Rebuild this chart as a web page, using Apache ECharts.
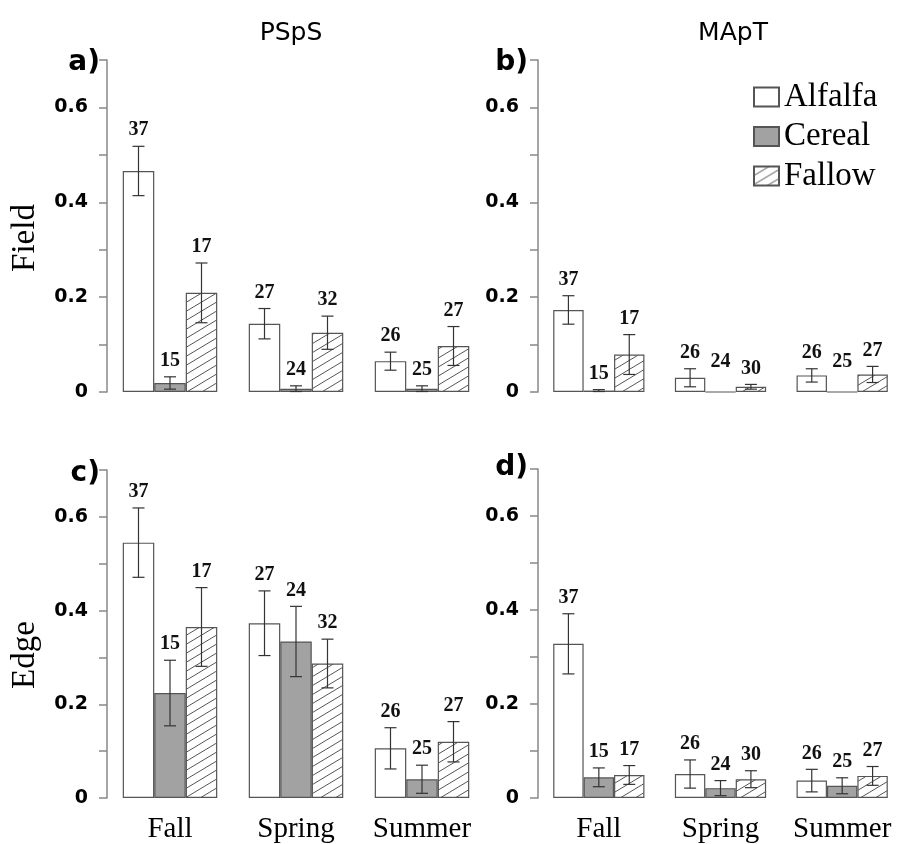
<!DOCTYPE html>
<html>
<head>
<meta charset="utf-8">
<script src="https://cdn.jsdelivr.net/npm/echarts@6/dist/echarts.min.js"></script>
<style>
html,body{margin:0;padding:0;background:#fff;}
#chart{width:903px;height:844px;}
</style>
</head>
<body>
<div id="chart"></div>
<script>
// ---------- data ----------
const seasons = ['Fall', 'Spring', 'Summer'];
const crops = ['Alfalfa', 'Cereal', 'Fallow'];
const panelTitles = ['PSpS', 'MApT'];
const rowNames = ['Field', 'Edge'];
const panelLetters = ['a)', 'b)', 'c)', 'd)'];
const yTickLabels = ['0', '0.2', '0.4', '0.6'];

// a) PSpS - Field
const aAlfalfa = [0.466, 0.144, 0.065];
const aAlfalfaSE = [0.052, 0.032, 0.019];
const aCereal = [0.019, 0.007, 0.007];
const aCerealSE = [0.013, 0.006, 0.006];
const aFallow = [0.209, 0.125, 0.097];
const aFallowSE = [0.063, 0.035, 0.041];
const aN = [[37, 27, 26], [15, 24, 25], [17, 32, 27]];

// b) MApT - Field
const bAlfalfa = [0.173, 0.030, 0.035];
const bAlfalfaSE = [0.030, 0.019, 0.014];
const bCereal = [0.003, 0, 0];
const bCerealSE = [0.002, 0, 0];
const bFallow = [0.079, 0.011, 0.037];
const bFallowSE = [0.042, 0.005, 0.017];
const bN = [[37, 26, 26], [15, 24, 25], [17, 30, 27]];

// c) PSpS - Edge
const cAlfalfa = [0.545, 0.373, 0.106];
const cAlfalfaSE = [0.074, 0.069, 0.044];
const cCereal = [0.224, 0.334, 0.040];
const cCerealSE = [0.070, 0.075, 0.030];
const cFallow = [0.365, 0.287, 0.120];
const cFallowSE = [0.084, 0.052, 0.043];
const cN = [[37, 27, 26], [15, 24, 25], [17, 32, 27]];

// d) MApT - Edge
const dAlfalfa = [0.328, 0.051, 0.037];
const dAlfalfaSE = [0.064, 0.030, 0.024];
const dCereal = [0.044, 0.021, 0.026];
const dCerealSE = [0.020, 0.016, 0.017];
const dFallow = [0.049, 0.040, 0.047];
const dFallowSE = [0.020, 0.018, 0.020];
const dN = [[37, 26, 26], [15, 24, 25], [17, 30, 27]];

// ---------- build ----------
const panels = [
  {means: [aAlfalfa, aCereal, aFallow], se: [aAlfalfaSE, aCerealSE, aFallowSE], n: aN},
  {means: [bAlfalfa, bCereal, bFallow], se: [bAlfalfaSE, bCerealSE, bFallowSE], n: bN},
  {means: [cAlfalfa, cCereal, cFallow], se: [cAlfalfaSE, cCerealSE, cFallowSE], n: cN},
  {means: [dAlfalfa, dCereal, dFallow], se: [dAlfalfaSE, dCerealSE, dFallowSE], n: dN}
];

// hatch pattern
const hatch = document.createElement('canvas');
const HW = 15, HH = 9;
hatch.width = HW; hatch.height = HH;
(function () {
  const ctx = hatch.getContext('2d');
  ctx.fillStyle = '#fff';
  ctx.fillRect(0, 0, HW, HH);
  ctx.strokeStyle = '#555';
  ctx.lineWidth = 1;
  [[0, HH, HW, 0], [-HW, HH, 0, 0], [HW, HH, 2 * HW, 0], [0, 2 * HH, HW, HH], [0, 0, HW, -HH]].forEach(function (l) {
    ctx.beginPath(); ctx.moveTo(l[0], l[1]); ctx.lineTo(l[2], l[3]); ctx.stroke();
  });
})();

const fills = ['#ffffff', '#a2a2a2', {image: hatch, repeat: 'repeat'}];

const grids = [
  {left: 107, top: 60, width: 378, height: 332},
  {left: 538, top: 60, width: 378, height: 332},
  {left: 107, top: 470, width: 378, height: 331},
  {left: 538, top: 469, width: 378, height: 331}
];

const xAxes = grids.map(function (g, i) {
  return {
    type: 'category', gridIndex: i, data: seasons,
    axisLine: {show: false}, axisTick: {show: false},
    axisLabel: {show: i >= 2, interval: 0, hideOverlap: false, margin: 17, color: '#000', fontFamily: '"Liberation Serif", serif', fontSize: 29}
  };
});

const yAxes = grids.map(function (g, i) {
  return {
    type: 'value', gridIndex: i, min: 0, max: 0.7, interval: 0.1,
    splitLine: {show: false},
    axisLine: {show: true, lineStyle: {color: '#888', width: 1.5}},
    axisTick: {show: true, length: 8, lineStyle: {color: '#888', width: 1.5}},
    axisLabel: {
      margin: 19, color: '#000', fontFamily: '"DejaVu Sans", sans-serif', fontWeight: 'bold', fontSize: 19,
      formatter: function (v) {
        const s = String(Math.round(v * 10) / 10);
        return yTickLabels.indexOf(s) >= 0 ? s : '';
      }
    }
  };
});

const series = [];
panels.forEach(function (p, gi) {
  crops.forEach(function (c, k) {
    series.push({
      type: 'bar', name: c, xAxisIndex: gi, yAxisIndex: gi,
      barGap: '0%', barCategoryGap: '25%',
      data: p.means[k],
      itemStyle: {color: fills[k], borderColor: '#555', borderWidth: 1.2},
      emphasis: {disabled: true}, silent: true
    });
  });
  const errData = [];
  crops.forEach(function (c, k) {
    seasons.forEach(function (s, j) {
      errData.push([j, k, p.means[k][j], p.se[k][j], p.n[k][j]]);
    });
  });
  series.push({
    type: 'custom', xAxisIndex: gi, yAxisIndex: gi, z: 10, silent: true,
    encode: {x: 0, y: 2},
    data: errData,
    renderItem: function (params, api) {
      const cat = api.value(0), k = api.value(1), v = api.value(2), se = api.value(3), n = api.value(4);
      const band = api.size([1, 0])[0];
      const bw = band * 0.75 / 3;
      const cx = api.coord([cat, 0])[0] + (k - 1) * bw;
      const yTop = api.coord([cat, v + se])[1];
      const yBot = api.coord([cat, Math.max(v - se, 0)])[1];
      const ls = {stroke: '#333', lineWidth: 1.2};
      const children = [];
      if (se > 0) {
        children.push({type: 'line', shape: {x1: cx, y1: yTop, x2: cx, y2: yBot}, style: ls});
        children.push({type: 'line', shape: {x1: cx - 6, y1: yTop, x2: cx + 6, y2: yTop}, style: ls});
        children.push({type: 'line', shape: {x1: cx - 6, y1: yBot, x2: cx + 6, y2: yBot}, style: ls});
      }
      const labelY = se > 0 ? yTop - 6 : api.coord([cat, v])[1] - 20;
      children.push({
        type: 'text', x: cx, y: labelY,
        style: {text: String(n), textAlign: 'center', textVerticalAlign: 'bottom',
          font: 'bold 20px "Liberation Serif", serif', fill: '#111'}
      });
      return {type: 'group', children: children};
    }
  });
});

const legends = crops.map(function (c, k) {
  return {
    data: [{name: c, icon: 'rect'}], left: 753, top: [80, 119.5, 159][k], padding: 0,
    itemWidth: 25, itemHeight: 19, selectedMode: false,
    textStyle: {color: '#000', fontFamily: '"Liberation Serif", serif', fontSize: 33, lineHeight: 34}
  };
});

const graphics = [];
panelTitles.forEach(function (t, i) {
  graphics.push({type: 'text', x: [291, 733][i], y: 33,
    style: {text: t, textAlign: 'center', textVerticalAlign: 'middle', font: '25px "DejaVu Sans", sans-serif', fill: '#000'}});
});
rowNames.forEach(function (t, i) {
  graphics.push({type: 'text', x: 25, y: [238, 655][i], rotation: Math.PI / 2,
    style: {text: t, textAlign: 'center', textVerticalAlign: 'middle', font: '33px "Liberation Serif", serif', fill: '#000'}});
});
panelLetters.forEach(function (t, i) {
  graphics.push({type: 'text', x: [100, 528, 100, 528][i], y: [63, 63, 474, 468][i],
    style: {text: t, textAlign: 'right', textVerticalAlign: 'middle', font: 'bold 28px "DejaVu Sans", sans-serif', fill: '#000'}});
});

const chart = echarts.init(document.getElementById('chart'), null, {renderer: 'canvas'});
chart.setOption({
  animation: false,
  backgroundColor: '#fff',
  grid: grids,
  xAxis: xAxes,
  yAxis: yAxes,
  legend: legends,
  series: series,
  graphic: graphics
});
</script>
</body>
</html>
